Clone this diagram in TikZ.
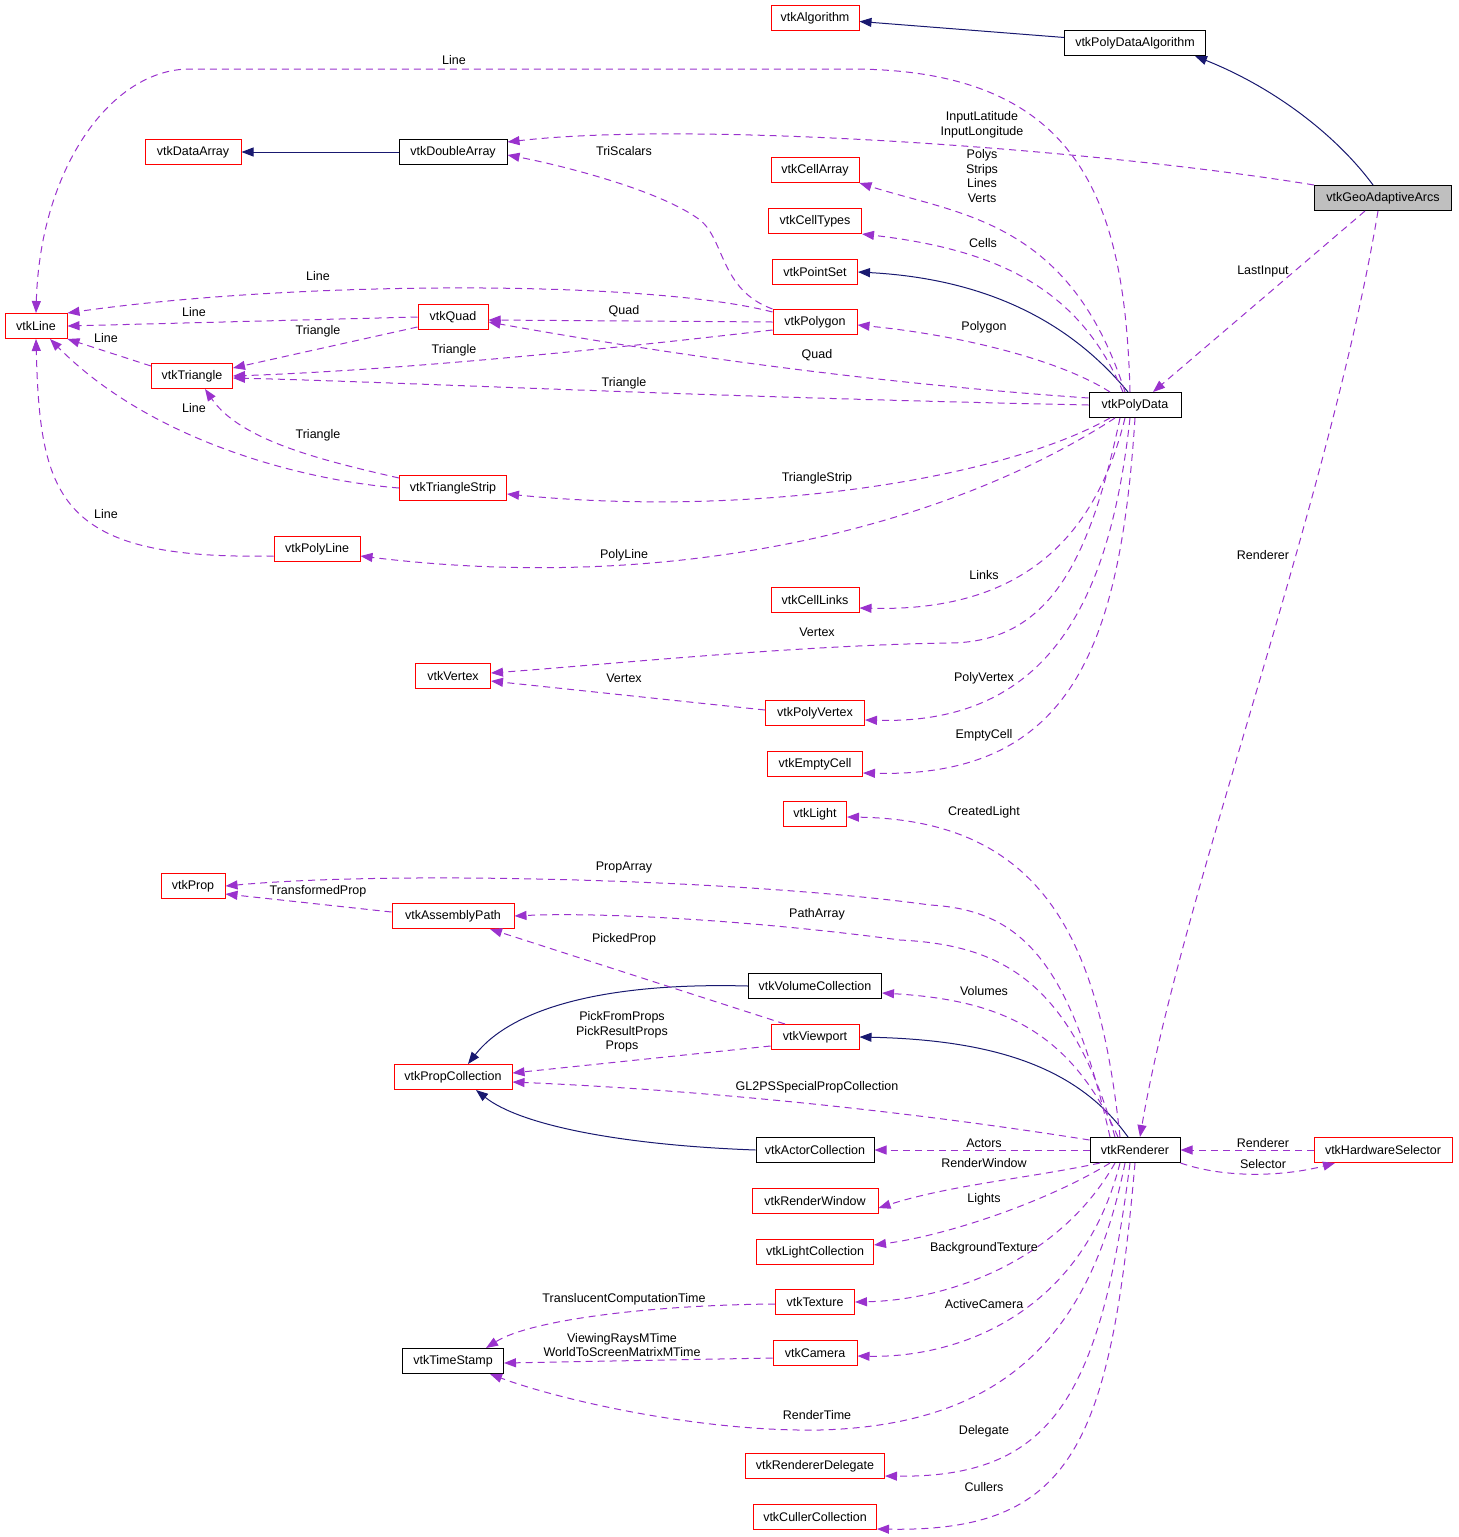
\documentclass[tikz,border=0pt]{standalone}
\usepackage{fontspec}
\usetikzlibrary{arrows.meta}
\newfontfamily\dox{Liberation Sans}
\definecolor{usecol}{HTML}{9A32CD}
\definecolor{inhcol}{HTML}{191970}

\begin{document}
\begin{tikzpicture}[
  x=1pt,y=-1pt,
  cls/.style={draw=black,line width=1pt,fill=white,minimum height=25pt,
    inner sep=2pt,font=\dox\fontsize{12.5}{14.5}\selectfont},
  clsr/.style={cls,draw=red},
  clsg/.style={cls,fill=black!25},
  inherit/.style={inhcol,line width=1pt,-{Triangle[length=12pt,width=9pt]}},
  uses/.style={usecol,line width=1pt,dash pattern=on 7pt off 5pt,
    -{Triangle[length=12pt,width=9pt]}},
  lbl/.style={text=black,font=\dox\fontsize{12.5}{14.5}\selectfont,
    align=center,inner sep=0pt}
]
  \useasboundingbox (0,0) rectangle (1459,1537);

  % classes
  \node[clsr,minimum width=88]  (alg)       at (815,18)   {vtkAlgorithm};
  \node[cls,minimum width=141]  (pda)       at (1135,43)  {vtkPolyDataAlgorithm};
  \node[clsg,minimum width=137] (geo)       at (1383,198) {vtkGeoAdaptiveArcs};
  \node[clsr,minimum width=96]  (dataarr)   at (193,152)  {vtkDataArray};
  \node[cls,minimum width=108]  (dblarr)    at (453,152)  {vtkDoubleArray};
  \node[clsr,minimum width=88]  (cellarr)   at (815,170)  {vtkCellArray};
  \node[clsr,minimum width=93]  (celltypes) at (815,221)  {vtkCellTypes};
  \node[clsr,minimum width=85]  (pointset)  at (815,272)  {vtkPointSet};
  \node[clsr,minimum width=62]  (line)      at (36,326)   {vtkLine};
  \node[clsr,minimum width=70]  (quad)      at (453,317)  {vtkQuad};
  \node[clsr,minimum width=84]  (polygon)   at (815,322)  {vtkPolygon};
  \node[clsr,minimum width=81]  (tri)       at (192,376)  {vtkTriangle};
  \node[cls,minimum width=92]   (pd)        at (1135,405) {vtkPolyData};
  \node[clsr,minimum width=107] (tristrip)  at (453,488)  {vtkTriangleStrip};
  \node[clsr,minimum width=86]  (polyline)  at (317,549)  {vtkPolyLine};
  \node[clsr,minimum width=88]  (celllinks) at (815,600)  {vtkCellLinks};
  \node[clsr,minimum width=75]  (vertex)    at (453,676)  {vtkVertex};
  \node[clsr,minimum width=99]  (polyvertex) at (815,713) {vtkPolyVertex};
  \node[clsr,minimum width=95]  (emptycell) at (815,764)  {vtkEmptyCell};
  \node[clsr,minimum width=63]  (light)     at (815,814)  {vtkLight};
  \node[clsr,minimum width=64]  (prop)      at (193,886)  {vtkProp};
  \node[clsr,minimum width=122] (asmpath)   at (453,916)  {vtkAssemblyPath};
  \node[cls,minimum width=133]  (volcoll)   at (815,986)  {vtkVolumeCollection};
  \node[clsr,minimum width=88]  (viewport)  at (815,1037) {vtkViewport};
  \node[clsr,minimum width=118] (propcoll)  at (453,1077) {vtkPropCollection};
  \node[cls,minimum width=118]  (actorcoll) at (815,1150) {vtkActorCollection};
  \node[cls,minimum width=90]   (ren)       at (1135,1150) {vtkRenderer};
  \node[clsr,minimum width=138] (hwsel)     at (1383,1150) {vtkHardwareSelector};
  \node[clsr,minimum width=126] (renwin)    at (815,1201) {vtkRenderWindow};
  \node[clsr,minimum width=117] (lightcoll) at (815,1252) {vtkLightCollection};
  \node[clsr,minimum width=79]  (texture)   at (815,1302) {vtkTexture};
  \node[clsr,minimum width=84]  (camera)    at (815,1353) {vtkCamera};
  \node[cls,minimum width=101]  (tstamp)    at (453,1361) {vtkTimeStamp};
  \node[clsr,minimum width=139] (rendel)    at (815,1466) {vtkRendererDelegate};
  \node[clsr,minimum width=123] (cullcoll)  at (815,1517) {vtkCullerCollection};

  % inheritance
  \draw[inherit] (pda) -- (alg);
  \draw[inherit] ([xshift=-10]geo.north) .. controls (1340,140) and (1280,90) .. ([xshift=60]pda.south);
  \draw[inherit] (dblarr) -- (dataarr);
  \draw[inherit] ([xshift=-7]pd.north) .. controls (1085,340) and (1010,280) .. (pointset.east);
  \draw[inherit] (volcoll.west) .. controls (600,982) and (510,1010) .. ([xshift=15]propcoll.north);
  \draw[inherit] (actorcoll.west) .. controls (620,1145) and (520,1125) .. ([xshift=23]propcoll.south);
  \draw[inherit] ([xshift=-7]ren.north) .. controls (1080,1070) and (1000,1040) .. (viewport.east);

  % vtkGeoAdaptiveArcs members
  \draw[uses] (geo.north west) .. controls (1100,150) and (700,120) .. ([yshift=10]dblarr.east)
    node[lbl,at={(982,125)}] {InputLatitude\\InputLongitude};
  \draw[uses] ([xshift=-18]geo.south) -- ([xshift=18]pd.north)
    node[lbl,at={(1263,271)}] {LastInput};
  \draw[uses] ([xshift=-5]geo.south) .. controls (1330,500) and (1180,900) .. ([xshift=5]ren.north)
    node[lbl,at={(1263,555)}] {Renderer};

  % vtkPolyData members
  \draw[uses] ([xshift=-5]pd.north) .. controls (1125,200) and (1080,69) .. (850,69)
    -- (190,69) .. controls (110,69) and (40,170) .. (line.north)
    node[lbl,at={(454,60)}] {Line};
  \draw[uses] ([xshift=-10]pd.north) .. controls (1070,220) and (960,215) .. (cellarr.south east)
    node[lbl,at={(982,176)}] {Polys\\Strips\\Lines\\Verts};
  \draw[uses] ([xshift=-12]pd.north) .. controls (1080,290) and (1000,250) .. (celltypes.south east)
    node[lbl,at={(983,243)}] {Cells};
  \draw[uses] ([xshift=-25]pd.north) .. controls (1060,360) and (960,335) .. ([yshift=-3]polygon.east)
    node[lbl,at={(984,327)}] {Polygon};
  \draw[uses] ([yshift=7]pd.west) .. controls (900,385) and (700,360) .. ([yshift=-5]quad.east)
    node[lbl,at={(817,355)}] {Quad};
  \draw[uses] (pd.west) .. controls (700,397) and (400,382) .. ([yshift=-2]tri.east)
    node[lbl,at={(624,383)}] {Triangle};
  \draw[uses] ([xshift=-25]pd.south) .. controls (1000,480) and (750,518) .. ([yshift=-6]tristrip.east)
    node[lbl,at={(817,478)}] {TriangleStrip};
  \draw[uses] ([xshift=-20]pd.south) .. controls (950,525) and (680,595) .. ([yshift=-7]polyline.east)
    node[lbl,at={(624,555)}] {PolyLine};
  \draw[uses] ([xshift=-10]pd.south) .. controls (1095,540) and (1020,612) .. ([yshift=-8]celllinks.east)
    node[lbl,at={(984,575)}] {Links};
  \draw[uses] ([xshift=-15]pd.south) .. controls (1090,560) and (1050,642) .. (950,643)
    .. controls (800,645) and (600,665) .. ([yshift=3]vertex.east)
    node[lbl,at={(817,632)}] {Vertex};
  \draw[uses] ([xshift=-5]pd.south) .. controls (1110,600) and (1050,725) .. ([yshift=-7]polyvertex.east)
    node[lbl,at={(984,678)}] {PolyVertex};
  \draw[uses] (pd.south) .. controls (1120,650) and (1070,778) .. ([yshift=-9]emptycell.east)
    node[lbl,at={(984,735)}] {EmptyCell};

  % cell classes
  \draw[uses] (polygon.north west) .. controls (720,290) and (725,240) .. (700,220)
    .. controls (660,190) and (560,165) .. ([yshift=-3]dblarr.east)
    node[lbl,at={(624,151)}] {TriScalars};
  \draw[uses] ([yshift=10]polygon.west) .. controls (650,280) and (300,280) .. ([yshift=13]line.east)
    node[lbl,at={(318,276)}] {Line};
  \draw[uses] (quad.west) -- (line.east)
    node[lbl,at={(194,312)}] {Line};
  \draw[uses] (polygon.west) -- ([yshift=-3]quad.east)
    node[lbl,at={(624,311)}] {Quad};
  \draw[uses] ([yshift=-8]polygon.west) .. controls (600,350) and (400,370) .. (tri.east)
    node[lbl,at={(454,350)}] {Triangle};
  \draw[uses] ([yshift=-10]quad.west) -- ([yshift=8]tri.east)
    node[lbl,at={(318,331)}] {Triangle};
  \draw[uses] ([yshift=10]tri.west) -- (line.south east)
    node[lbl,at={(106,338)}] {Line};
  \draw[uses] (tristrip.west) .. controls (300,480) and (150,440) .. ([xshift=14]line.south)
    node[lbl,at={(194,408)}] {Line};
  \draw[uses] ([yshift=10]tristrip.west) .. controls (320,460) and (240,440) .. ([xshift=13]tri.south)
    node[lbl,at={(318,435)}] {Triangle};
  \draw[uses] ([yshift=-7]polyline.west) .. controls (60,560) and (40,500) .. (line.south)
    node[lbl,at={(106,514)}] {Line};
  \draw[uses] ([yshift=3]polyvertex.west) -- ([yshift=-5]vertex.east)
    node[lbl,at={(624,678)}] {Vertex};

  % vtkRenderer members
  \draw[uses] ([xshift=-15]ren.north) .. controls (1100,950) and (1050,820) .. ([yshift=-3]light.east)
    node[lbl,at={(984,812)}] {CreatedLight};
  \draw[uses] ([xshift=-25]ren.north) .. controls (1070,960) and (1020,910) .. (930,905)
    .. controls (750,880) and (400,870) .. (prop.east)
    node[lbl,at={(624,867)}] {PropArray};
  \draw[uses] ([xshift=-20]ren.north) .. controls (1070,980) and (1000,945) .. (900,940)
    .. controls (750,920) and (600,912) .. (asmpath.east)
    node[lbl,at={(817,914)}] {PathArray};
  \draw[uses] ([xshift=-30]viewport.north) -- ([xshift=37]asmpath.south)
    node[lbl,at={(624,939)}] {PickedProp};
  \draw[uses] ([yshift=4]asmpath.west) -- ([yshift=-8]prop.east)
    node[lbl,at={(318,891)}] {TransformedProp};
  \draw[uses] ([xshift=-17]ren.north) .. controls (1070,1030) and (1000,1000) .. ([yshift=-7]volcoll.east)
    node[lbl,at={(984,991)}] {Volumes};
  \draw[uses] ([yshift=-9]viewport.west) -- ([yshift=4]propcoll.east)
    node[lbl,at={(622,1032)}] {PickFromProps\\PickResultProps\\Props};
  \draw[uses] ([yshift=10]ren.west) .. controls (900,1110) and (700,1090) .. ([yshift=-5]propcoll.east)
    node[lbl,at={(817,1087)}] {GL2PSSpecialPropCollection};
  \draw[uses] (ren.west) -- (actorcoll.east)
    node[lbl,at={(984,1143)}] {Actors};
  \draw[uses] ([xshift=-35]ren.south) .. controls (1030,1178) and (950,1185) .. ([yshift=-7]renwin.east)
    node[lbl,at={(984,1163)}] {RenderWindow};
  \draw[uses] ([xshift=-25]ren.south) .. controls (1050,1200) and (950,1235) .. ([yshift=7]lightcoll.east)
    node[lbl,at={(984,1199)}] {Lights};
  \draw[uses] ([xshift=-20]ren.south) .. controls (1060,1260) and (950,1300) .. (texture.east)
    node[lbl,at={(984,1248)}] {BackgroundTexture};
  \draw[uses] ([xshift=-15]ren.south) .. controls (1080,1320) and (950,1358) .. ([yshift=-3]camera.east)
    node[lbl,at={(984,1304)}] {ActiveCamera};
  \draw[uses] ([xshift=-10]ren.south) .. controls (1090,1340) and (1000,1425) .. (820,1430)
    .. controls (700,1432) and (560,1400) .. ([xshift=37]tstamp.south)
    node[lbl,at={(817,1415)}] {RenderTime};
  \draw[uses] ([xshift=-5]ren.south) .. controls (1100,1400) and (1050,1478) .. ([yshift=-10]rendel.east)
    node[lbl,at={(984,1431)}] {Delegate};
  \draw[uses] (ren.south) .. controls (1110,1450) and (1070,1532) .. ([yshift=-12]cullcoll.east)
    node[lbl,at={(984,1487)}] {Cullers};
  \draw[uses] ([yshift=-2]texture.west) .. controls (650,1305) and (530,1320) .. ([xshift=33]tstamp.north)
    node[lbl,at={(624,1299)}] {TranslucentComputationTime};
  \draw[uses] ([yshift=-5]camera.west) -- ([yshift=-2]tstamp.east)
    node[lbl,at={(622,1345)}] {ViewingRaysMTime\\WorldToScreenMatrixMTime};

  % vtkHardwareSelector
  \draw[uses] (hwsel.west) -- (ren.east)
    node[lbl,at={(1263,1143)}] {Renderer};
  \draw[uses] (ren.south east) .. controls (1230,1180) and (1290,1175) .. ([xshift=-48]hwsel.south)
    node[lbl,at={(1263,1164)}] {Selector};
\end{tikzpicture}
\end{document}
